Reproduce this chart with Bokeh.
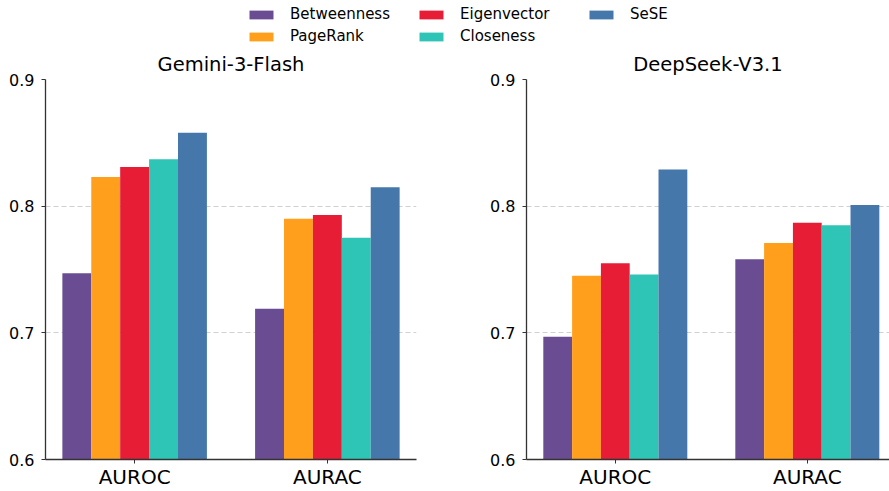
from bokeh.plotting import figure
from bokeh.layouts import column, row
from bokeh.models import ColumnDataSource, Range1d, FixedTicker, Legend, LegendItem
from bokeh.transform import dodge
from bokeh.embed import file_html
from bokeh.resources import INLINE

metrics = ["AUROC", "AURAC"]
methods = ["Betweenness", "PageRank", "Eigenvector", "Closeness", "SeSE"]
colors = ["#6A4C93", "#FF9F1C", "#E71D36", "#2EC4B6", "#4577AA"]

gemini_auroc = [0.747, 0.823, 0.831, 0.837, 0.858]
gemini_aurac = [0.719, 0.790, 0.793, 0.775, 0.815]
deepseek_auroc = [0.697, 0.745, 0.755, 0.746, 0.829]
deepseek_aurac = [0.758, 0.771, 0.787, 0.785, 0.801]

titles = ["Gemini-3-Flash", "DeepSeek-V3.1"]
y_ticks = [0.6, 0.7, 0.8, 0.9]
y_labels = ["0.6", "0.7", "0.8", "0.9"]

FONT = "DejaVu Sans"
BAR_W = 0.15
SPINE = "#333333"
X_START = -0.4625
Y_START, Y_END = 0.6, 0.9
LEGEND_H = 46
PANEL_H = 491 - LEGEND_H


def make_panel(title, auroc, aurac, width, border_left, border_right, x_end, title_offset=0):
    data = {"x": list(range(len(metrics)))}
    for j, m in enumerate(methods):
        data[m] = [auroc[j], aurac[j]]
    src = ColumnDataSource(data)
    p = figure(width=width, height=PANEL_H, toolbar_location=None, output_backend="svg",
               x_range=Range1d(X_START, x_end), y_range=Range1d(Y_START, Y_END),
               min_border_left=border_left, min_border_right=border_right,
               min_border_top=33, min_border_bottom=32)
    p.title.text = title
    p.title.align = "center"
    p.title.vertical_align = "bottom"
    p.title.text_font = FONT
    p.title.text_font_size = "19.5px"
    p.title.text_font_style = "normal"
    p.title.text_color = "#000000"
    p.title.standoff = 7
    p.title.offset = title_offset
    for j, m in enumerate(methods):
        p.vbar(x=dodge("x", (j - 2) * BAR_W), top=m, bottom=0, width=BAR_W,
               source=src, fill_color=colors[j], line_color=None)
    p.outline_line_color = None
    p.background_fill_color = "white"
    p.xgrid.visible = False
    p.ygrid.ticker = FixedTicker(ticks=y_ticks)
    p.ygrid.grid_line_color = "#d0d0d0"
    p.ygrid.grid_line_dash = "5 3"
    p.ygrid.grid_line_width = 1
    p.ygrid.level = "underlay"

    p.yaxis.ticker = FixedTicker(ticks=y_ticks)
    p.yaxis.major_label_overrides = {t: l for t, l in zip(y_ticks, y_labels)}
    p.xaxis.ticker = FixedTicker(ticks=list(range(len(metrics))))
    p.xaxis.major_label_overrides = {i: m for i, m in enumerate(metrics)}
    for ax in (p.xaxis[0], p.yaxis[0]):
        ax.axis_line_color = SPINE
        ax.axis_line_width = 1.3
        ax.major_tick_line_color = SPINE
        ax.major_tick_in = 0
        ax.major_tick_out = 4
        ax.minor_tick_line_color = None
        ax.major_label_text_font = FONT
        ax.major_label_text_color = "#000000"
    p.yaxis.major_label_text_font_size = "16px"
    p.yaxis.major_label_standoff = 7
    p.xaxis.major_label_text_font_size = "20px"
    p.xaxis.major_label_standoff = 1
    return p


p1 = make_panel(titles[0], gemini_auroc, gemini_aurac, 458, 45, 42, 1.4625)
p2 = make_panel(titles[1], deepseek_auroc, deepseek_aurac, 431, 68, 0, 1.428, title_offset=8)

lf = figure(width=889, height=LEGEND_H, toolbar_location=None, output_backend="svg",
            x_range=Range1d(0, 1), y_range=Range1d(0, 1), min_border=0)
lf.axis.visible = False
lf.grid.visible = False
lf.outline_line_color = None
items = []
for j, m in enumerate(methods):
    r = lf.vbar(x=[-10], top=[-10], width=0.1, fill_color=colors[j], line_color=None)
    items.append(LegendItem(label=m, renderers=[r]))
legend = Legend(items=items, location=(246, 1), orientation="vertical", ncols=3,
                label_text_font=FONT, label_text_font_size="15px", label_text_color="#000000",
                glyph_width=30, glyph_height=11, label_standoff=14, spacing=4,
                label_width=122, padding=0, margin=0,
                border_line_color=None, background_fill_alpha=0)
lf.add_layout(legend, "center")

layout = column(lf, row(p1, p2))
open("out.html", "w").write(file_html(layout, INLINE))
